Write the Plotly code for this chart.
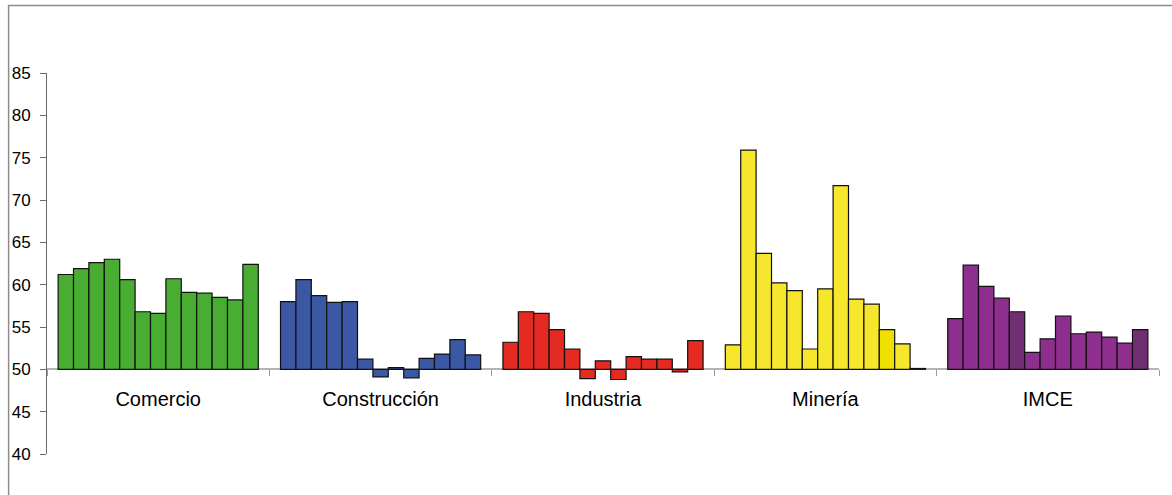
import plotly.graph_objects as go

categories = ["Comercio", "Construcción", "Industria", "Minería", "IMCE"]

comercio = [61.2, 61.9, 62.6, 63.0, 60.6, 56.8, 56.6, 60.7, 59.1, 59.0, 58.5, 58.2, 62.4]
construccion = [58.0, 60.6, 58.7, 57.9, 58.0, 51.2, 49.1, 50.2, 49.0, 51.3, 51.8, 53.5, 51.7]
industria = [53.2, 56.8, 56.6, 54.7, 52.4, 48.9, 51.0, 48.8, 51.5, 51.2, 51.2, 49.7, 53.4]
mineria = [52.9, 75.9, 63.7, 60.2, 59.3, 52.4, 59.5, 71.7, 58.3, 57.7, 54.7, 53.0, 50.1]
imce = [56.0, 62.3, 59.8, 58.4, 56.8, 52.0, 53.6, 56.3, 54.2, 54.4, 53.8, 53.1, 54.7]

series = [comercio, construccion, industria, mineria, imce]
BASE = 50

green = "#49ad34"
blue = "#3a58a4"
red = "#e52a21"
yellow = "#f6e72c"
yellow2 = "#f0e000"
purple = "#8e2e8e"
purple2 = "#702f72"

color_table = [
    [green] * 13,
    [blue] * 13,
    [red] * 13,
    [yellow] * 10 + [yellow2] + [yellow] * 2,
    [purple] * 4 + [purple2] + [purple] * 7 + [purple2],
]

fig = go.Figure()
for i in range(13):
    vals = [s[i] for s in series]
    fig.add_trace(go.Bar(
        x=categories,
        y=[v - BASE for v in vals],
        base=BASE,
        customdata=vals,
        hovertemplate="%{x}: %{customdata}<extra></extra>",
        marker=dict(color=[c[i] for c in color_table],
                    line=dict(color="#111111", width=1.2)),
        name=f"Serie {i + 1}",
        showlegend=False,
    ))

fig.update_layout(
    width=1172, height=495,
    margin=dict(l=44, r=13, t=73, b=41),
    paper_bgcolor="white", plot_bgcolor="white",
    barmode="group", bargap=0.1, bargroupgap=0,
    font=dict(family="Liberation Sans, Arial, sans-serif", color="black"),
    xaxis=dict(
        anchor="free", position=(50 - 40) / (85 - 40),
        showline=True, linecolor="#b4b4b4", linewidth=2,
        ticks="outside", tickson="boundaries", ticklen=6, tickcolor="#9a9a9a", tickwidth=1,
        tickfont=dict(size=20), ticklabelstandoff=12,
        showgrid=False, zeroline=False, layer="below traces",
    ),
    yaxis=dict(
        range=[40, 85], dtick=5, tick0=40,
        showline=True, linecolor="#6a6a6a", linewidth=1,
        ticks="outside", ticklen=6, tickcolor="#6a6a6a",
        tickfont=dict(size=17), ticklabelstandoff=6,
        showgrid=False, zeroline=False,
    ),
    shapes=[dict(
        type="rect", xref="paper", yref="paper",
        x0=(5.5 - 44) / 1115, x1=1.2, y0=-0.3, y1=(454 - 5.5) / 381,
        line=dict(color="#8c8c8c", width=1.5), fillcolor="rgba(0,0,0,0)", layer="below",
    )],
)

fig.write_html("out.html", config={"displayModeBar": False},
               post_script="document.body.style.margin='0';document.body.style.overflow='hidden';")
